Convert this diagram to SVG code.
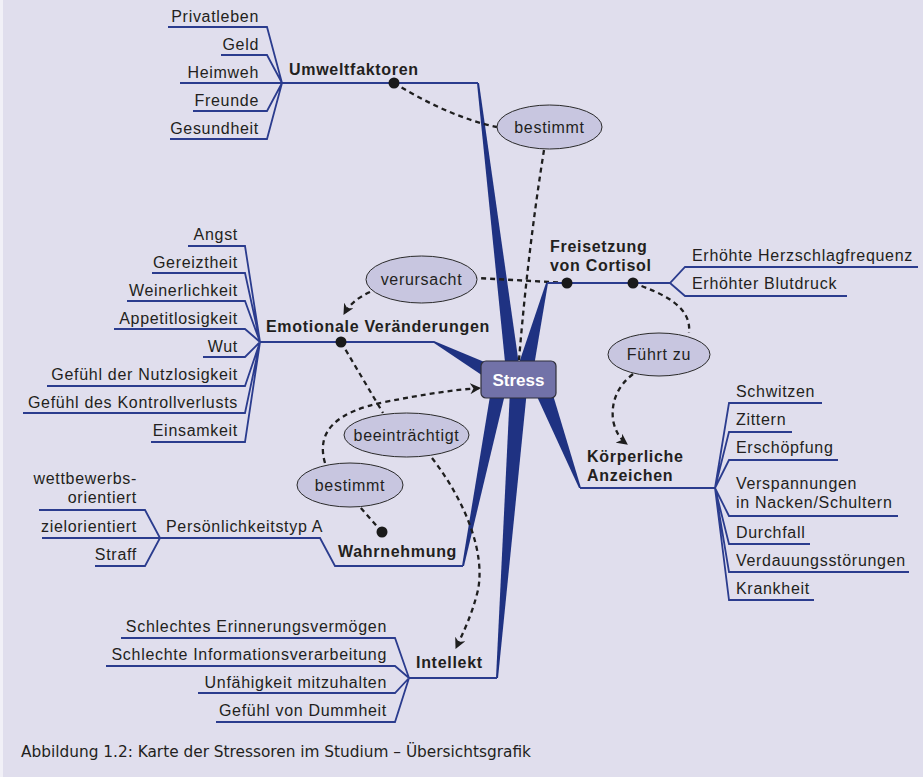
<svg xmlns="http://www.w3.org/2000/svg" width="923" height="777" viewBox="0 0 923 777">
<defs>
<style>
.t{font-family:"Liberation Sans",Arial,sans-serif;font-size:16px;fill:#231f20;letter-spacing:0.7px}
.b{font-family:"Liberation Sans",Arial,sans-serif;font-size:16px;font-weight:bold;fill:#231f20;letter-spacing:0.7px}
.e{text-anchor:end}
.m{text-anchor:middle}
.fan{fill:none;stroke:#2b3c8e;stroke-width:1.8;stroke-linejoin:miter}
.wedge{fill:#1f3282}
.ell{fill:#c8c6e0;stroke:#2a2a2a;stroke-width:1}
.dash{fill:none;stroke:#1e1e1e;stroke-width:2.3;stroke-dasharray:5 4}
.dot{fill:#1a1a1a}
</style>
<marker id="arr" viewBox="0 0 10 10" refX="9" refY="5" markerWidth="11" markerHeight="11" markerUnits="userSpaceOnUse" orient="auto">
<path d="M0,0 L10,5 L0,10 L3,5 z" fill="#1e1e1e"/>
</marker>
</defs>
<rect x="0" y="0" width="923" height="777" fill="#e0deed"/>
<rect x="0" y="0" width="3" height="777" fill="#f1f0f7"/>

<g id="wedges">
<polygon class="wedge" points="477,83 479,83 520,372 506,372"/>
<polygon class="wedge" points="546,283 548,283 532,378 516,372"/>
<polygon class="wedge" points="434,341 434,343 498,386 506,371"/>
<polygon class="wedge" points="462,566 464,566 506,390 491,390"/>
<polygon class="wedge" points="496,678 498,678 527,390 510,390"/>
<polygon class="wedge" points="579,488 581,488 550,385 534,390"/>
</g>

<g id="connectors">
<path class="dash" d="M394,83 C425,102 462,120 497,127"/>
<path class="dash" d="M544,150 Q528,250 519,360"/>
<path class="dash" d="M567,283 L477,278"/>
<path class="dash" d="M370,292 Q352,300 344,314" marker-end="url(#arr)"/>
<path class="dash" d="M341,342 L383,413"/>
<path class="dash" d="M432,458 C468,505 485,555 478,590 C472,615 463,633 456,648" marker-end="url(#arr)"/>
<path class="dash" d="M633,283 C662,293 692,306 689,333"/>
<path class="dash" d="M633,374 Q610,392 613,420 Q616,436 627,444" marker-end="url(#arr)"/>
<path class="dash" d="M382,532 L360,507"/>
<path class="dash" d="M325,463 C316,432 335,412 385,402 C425,394 452,390 480,388" marker-end="url(#arr)"/>
</g>

<g id="stress">
<rect x="481" y="361" width="75" height="37" rx="5" fill="#7272a8" stroke="#2f2f3a" stroke-width="1.2"/>
<text x="518.5" y="386" class="m" style="font-family:'Liberation Sans',Arial,sans-serif;font-size:17px;font-weight:bold;fill:#ffffff">Stress</text>
</g>

<g id="umweltfaktoren">
<path class="fan" d="M282,83 H478"/>
<path class="fan" d="M168,27 H267 L282,83 M221,55 H267 L282,83 M180,83 H282 M193,111 H267 L282,83 M170,139 H267 L282,83"/>
<text x="259" y="22" class="t e">Privatleben</text>
<text x="259" y="50" class="t e">Geld</text>
<text x="259" y="78" class="t e">Heimweh</text>
<text x="259" y="106" class="t e">Freunde</text>
<text x="259" y="134" class="t e">Gesundheit</text>
<text x="289" y="75" class="b">Umweltfaktoren</text>
<circle class="dot" cx="394" cy="83" r="5.5"/>
</g>

<g id="bestimmt1">
<ellipse class="ell" cx="549.5" cy="127" rx="52.5" ry="22"/>
<text x="549.5" y="133" class="t m">bestimmt</text>
</g>

<g id="cortisol">
<path class="fan" d="M547,283 H670 L685,267 H918 M670,283 L685,296 H847"/>
<text x="550" y="252" class="b">Freisetzung</text>
<text x="550" y="271" class="b">von Cortisol</text>
<text x="692" y="261" class="t">Erhöhte Herzschlagfrequenz</text>
<text x="692" y="289" class="t">Erhöhter Blutdruck</text>
<circle class="dot" cx="567" cy="283" r="5.5"/>
<circle class="dot" cx="633" cy="283" r="5.5"/>
</g>

<g id="verursacht">
<ellipse class="ell" cx="421.5" cy="279.5" rx="55.5" ry="23.5"/>
<text x="421.5" y="285" class="t m">verursacht</text>
</g>

<g id="emotional">
<path class="fan" d="M260,342 H434"/>
<path class="fan" d="M188,246 H245 L260,342 M152,273 H245 L260,342 M127,301 H245 L260,342 M114,329 H245 L260,342 M203,357 H245 L260,342 M47,386 H245 L260,342 M23,413 H245 L260,342 M151,442 H245 L260,342"/>
<text x="238" y="240" class="t e">Angst</text>
<text x="238" y="268" class="t e">Gereiztheit</text>
<text x="238" y="296" class="t e">Weinerlichkeit</text>
<text x="238" y="324" class="t e">Appetitlosigkeit</text>
<text x="238" y="352" class="t e">Wut</text>
<text x="238" y="380" class="t e">Gefühl der Nutzlosigkeit</text>
<text x="238" y="408" class="t e">Gefühl des Kontrollverlusts</text>
<text x="238" y="436" class="t e">Einsamkeit</text>
<text x="266" y="332" class="b">Emotionale Veränderungen</text>
<circle class="dot" cx="341" cy="342" r="5.5"/>
</g>

<g id="fuehrtzu">
<ellipse class="ell" cx="659" cy="354.5" rx="51" ry="21.5"/>
<text x="659" y="360" class="t m">Führt zu</text>
</g>

<g id="beeintraechtigt">
<ellipse class="ell" cx="406.5" cy="435" rx="62.5" ry="22"/>
<text x="406.5" y="441" class="t m">beeinträchtigt</text>
</g>

<g id="bestimmt2">
<ellipse class="ell" cx="350" cy="485" rx="53" ry="22"/>
<text x="350" y="491" class="t m">bestimmt</text>
</g>

<g id="koerper">
<path class="fan" d="M580,488 H715"/>
<path class="fan" d="M715,488 L729,403 H822 M715,488 L729,432 H792 M715,488 L729,460 H838 M715,488 L729,516 H898 M715,488 L729,544 H810 M715,488 L729,572 H909 M715,488 L729,600 H814"/>
<text x="587" y="462" class="b">Körperliche</text>
<text x="587" y="481" class="b">Anzeichen</text>
<text x="736" y="397" class="t">Schwitzen</text>
<text x="736" y="425" class="t">Zittern</text>
<text x="736" y="453" class="t">Erschöpfung</text>
<text x="736" y="489" class="t">Verspannungen</text>
<text x="736" y="508" class="t">in Nacken/Schultern</text>
<text x="736" y="538" class="t">Durchfall</text>
<text x="736" y="566" class="t">Verdauungsstörungen</text>
<text x="736" y="594" class="t">Krankheit</text>
</g>

<g id="wahrnehmung">
<path class="fan" d="M160,538 H320 L335,566 H463"/>
<path class="fan" d="M39,510 H145 L160,538 M42,538 H160 M95,566 H145 L160,538"/>
<text x="137" y="484" class="t e">wettbewerbs-</text>
<text x="137" y="503" class="t e">orientiert</text>
<text x="137" y="532" class="t e">zielorientiert</text>
<text x="137" y="560" class="t e">Straff</text>
<text x="166" y="532" class="t">Persönlichkeitstyp A</text>
<text x="338" y="557" class="b">Wahrnehmung</text>
<circle class="dot" cx="382" cy="532" r="5.5"/>
</g>

<g id="intellekt">
<path class="fan" d="M409,678 H497"/>
<path class="fan" d="M121,638 H395 L409,678 M106,666 H395 L409,678 M198,693 H395 L409,678 M216,722 H395 L409,678"/>
<text x="387" y="632" class="t e">Schlechtes Erinnerungsvermögen</text>
<text x="387" y="660" class="t e">Schlechte Informationsverarbeitung</text>
<text x="387" y="688" class="t e">Unfähigkeit mitzuhalten</text>
<text x="387" y="716" class="t e">Gefühl von Dummheit</text>
<text x="416" y="668" class="b">Intellekt</text>
</g>

<text x="21" y="757" textLength="510" lengthAdjust="spacingAndGlyphs" style="font-family:'Liberation Sans Narrow','DejaVu Sans Condensed','Liberation Sans',sans-serif;font-size:15px;fill:#231f20">Abbildung 1.2:  Karte der Stressoren im Studium – Übersichtsgrafik</text>
</svg>
